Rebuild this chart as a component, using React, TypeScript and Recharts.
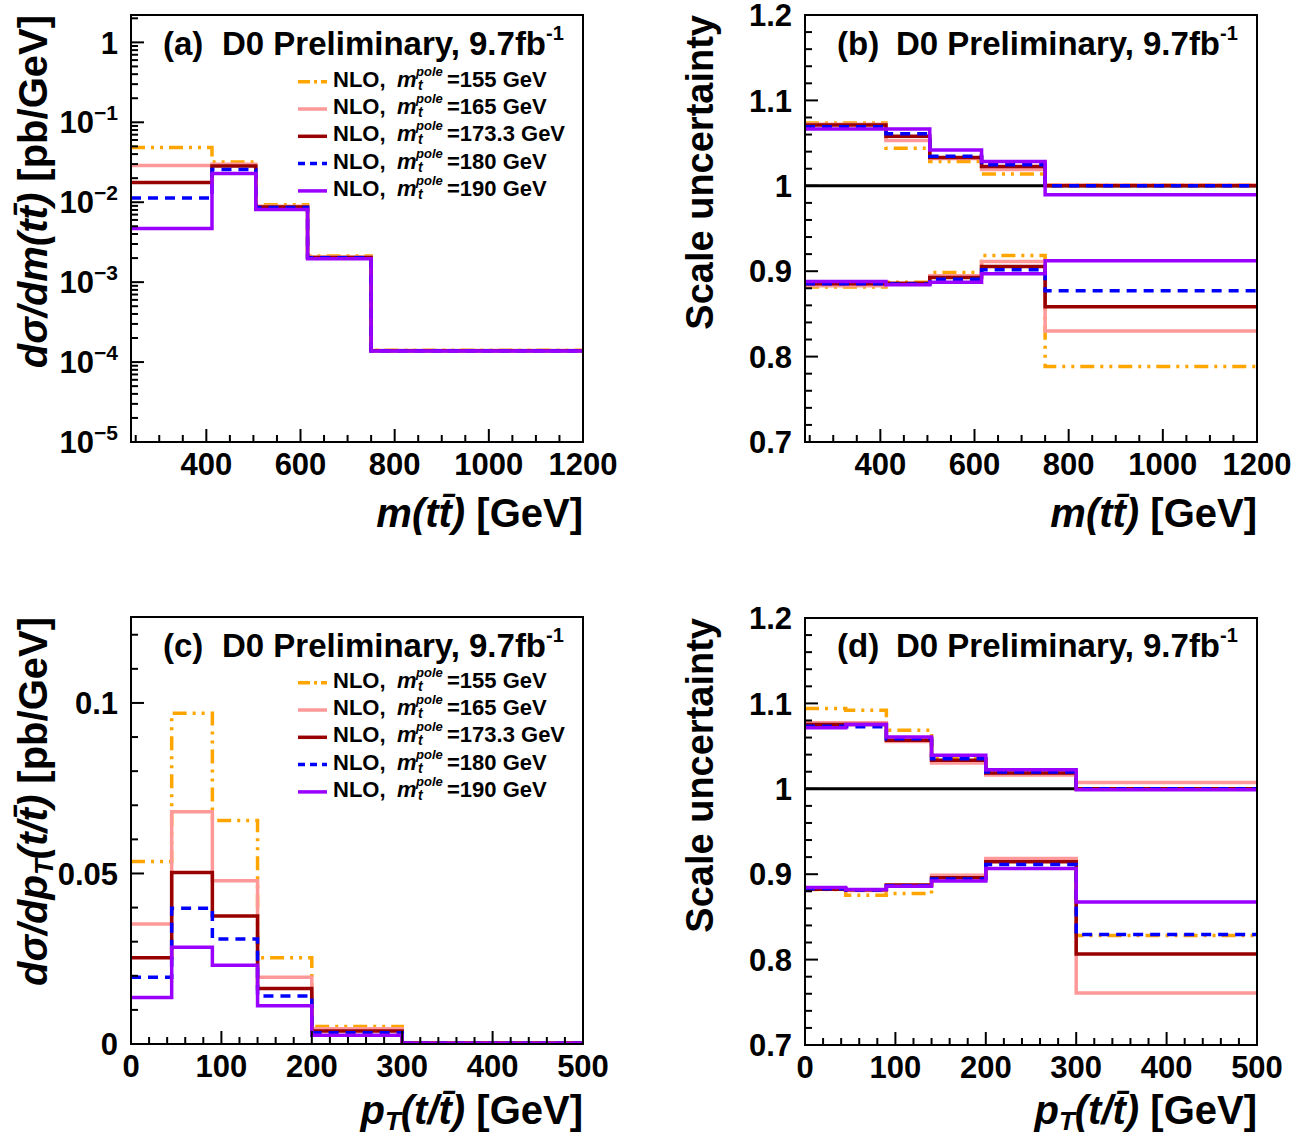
import React from 'react';
import { LineChart, Line, XAxis, YAxis, ReferenceLine } from 'recharts';

const FONT = '"Liberation Sans", Arial, Helvetica, sans-serif';

// bin edges
const MTT_EDGES = [240, 412, 505, 615, 750, 1200];
const PT_EDGES = [0, 45, 90, 140, 200, 300, 500];

const MASS_LABELS = ['155', '165', '173.3', '180', '190'];
const MASS_KEYS = ['m155', 'm165', 'm173', 'm180', 'm190'];
const COLORS = ['#ffa500', '#ff9999', '#990000', '#0000ff', '#9900ff'];
const DASHES: (string | undefined)[] = ['14 6 3 6 3 6', undefined, undefined, '10 7', undefined];

// (a) dsigma/dm(tt) [pb/GeV]
const mtt155 = [0.0483, 0.0319, 0.0093, 0.00212, 0.000141];
const mtt165 = [0.0288, 0.0298, 0.0089, 0.00206, 0.00014];
const mtt173 = [0.0176, 0.0284, 0.0087, 0.00204, 0.000139];
const mtt180 = [0.0113, 0.0257, 0.0086, 0.00202, 0.000139];
const mtt190 = [0.00468, 0.0229, 0.0081, 0.00196, 0.000138];

// (b) scale uncertainty vs m(tt), up / down
const mttUp155 = [1.0736, 1.044, 1.0286, 1.0138, 1.001];
const mttUp165 = [1.072, 1.053, 1.032, 1.019, 1.001];
const mttUp173 = [1.0713, 1.058, 1.033, 1.0227, 1.0];
const mttUp180 = [1.069, 1.061, 1.0345, 1.0247, 1.0];
const mttUp190 = [1.0666, 1.0666, 1.042, 1.0286, 0.9896];
const mttDn155 = [0.8814, 0.8872, 0.8985, 0.9184, 0.7883];
const mttDn165 = [0.8829, 0.8852, 0.8946, 0.9114, 0.83];
const mttDn173 = [0.8852, 0.886, 0.8926, 0.9055, 0.8583];
const mttDn180 = [0.8852, 0.885, 0.8907, 0.9016, 0.877];
const mttDn190 = [0.888, 0.884, 0.8872, 0.897, 0.9122];

// (c) dsigma/dpT [pb/GeV]
const pt155 = [0.0535, 0.097, 0.0655, 0.0253, 0.0051, 0.0004];
const pt165 = [0.0352, 0.0681, 0.0479, 0.0196, 0.0045, 0.0003];
const pt173 = [0.0253, 0.0503, 0.0375, 0.0163, 0.0038, 0.0003];
const pt180 = [0.0196, 0.0398, 0.0308, 0.0141, 0.0033, 0.0002];
const pt190 = [0.0136, 0.0284, 0.0231, 0.0112, 0.0026, 0.0002];

// (d) scale uncertainty vs pT, up / down
const ptUp155 = [1.094, 1.092, 1.0686, 1.0353, 1.018, 1.0];
const ptUp165 = [1.0773, 1.0773, 1.0553, 1.0302, 1.0161, 1.0074];
const ptUp173 = [1.0753, 1.0753, 1.0568, 1.0333, 1.0184, 1.0];
const ptUp180 = [1.0733, 1.0726, 1.0585, 1.0353, 1.0196, 1.0];
const ptUp190 = [1.0714, 1.0753, 1.0608, 1.0392, 1.0224, 0.999];
const ptDn155 = [0.882, 0.8753, 0.8773, 0.897, 0.916, 0.8282];
const ptDn165 = [0.883, 0.881, 0.887, 0.8988, 0.9184, 0.7608];
const ptDn173 = [0.8824, 0.8818, 0.8874, 0.8957, 0.9145, 0.8067];
const ptDn180 = [0.883, 0.8815, 0.8865, 0.8945, 0.9114, 0.8294];
const ptDn190 = [0.8843, 0.882, 0.8859, 0.8921, 0.9067, 0.8674];

// plot frame inside each chart (chart-relative, before the top pad)
const W = 680;
const PAD = 20;
const PL = 131;
const PR = 583;
const PT = 15;
const PB = 442;

const range = (a: number, b: number, step: number) => {
  const out: number[] = [];
  for (let i = 0; a + i * step <= b + 1e-9; i++) out.push(+(a + i * step).toFixed(6));
  return out;
};

const near = (a: number, b: number) => Math.abs(a - b) <= 1e-6 * Math.max(Math.abs(a), Math.abs(b), 1e-12);

const buildRows = (edges: number[], groups: { prefix: string; series: number[][] }[]) =>
  edges.map((x, i) => {
    const row: any = { x };
    groups.forEach(g =>
      g.series.forEach((s, k) => {
        row[g.prefix + MASS_KEYS[k]] = s[Math.min(i, s.length - 1)];
      })
    );
    return row;
  });

const rowsA = buildRows(MTT_EDGES, [{ prefix: '', series: [mtt155, mtt165, mtt173, mtt180, mtt190] }]);
const rowsB = buildRows(MTT_EDGES, [
  { prefix: 'u', series: [mttUp155, mttUp165, mttUp173, mttUp180, mttUp190] },
  { prefix: 'd', series: [mttDn155, mttDn165, mttDn173, mttDn180, mttDn190] },
]);
const rowsC = buildRows(PT_EDGES, [{ prefix: '', series: [pt155, pt165, pt173, pt180, pt190] }]);
const rowsD = buildRows(PT_EDGES, [
  { prefix: 'u', series: [ptUp155, ptUp165, ptUp173, ptUp180, ptUp190] },
  { prefix: 'd', series: [ptDn155, ptDn165, ptDn173, ptDn180, ptDn190] },
]);

// ticks
const MTT_TICKS = range(250, 1200, 50);
const MTT_MAJOR = [400, 600, 800, 1000, 1200];
const PT_TICKS = range(0, 500, 20);
const PT_MAJOR = [0, 100, 200, 300, 400, 500];
const LOG_TICKS: number[] = [];
for (let d = -5; d <= 0; d++) for (let k = 1; k <= 9; k++) if (k * Math.pow(10, d) <= 2.2) LOG_TICKS.push(k * Math.pow(10, d));
const LOG_MAJOR = [1e-5, 1e-4, 1e-3, 1e-2, 1e-1, 1];
const XS_TICKS = range(0, 0.12, 0.01);
const XS_MAJOR = [0, 0.05, 0.1];
const RATIO_TICKS = range(0.7, 1.2, 0.02);
const RATIO_MAJOR = [0.7, 0.8, 0.9, 1, 1.1, 1.2];

const tickText = { fontFamily: FONT, fontWeight: 700, fontSize: 31, fill: '#000' };

const makeXTick = (majors: number[]) => (props: any) => {
  const { x, payload } = props;
  const v = payload.value;
  const major = majors.some(m => near(m, v));
  const yb = PB + PAD;
  return (
    <g>
      <line x1={x} x2={x} y1={yb} y2={yb - (major ? 13 : 7)} stroke="#000" strokeWidth={2} />
      {major && (
        <text x={x} y={yb + 33} textAnchor="middle" style={tickText}>
          {String(v)}
        </text>
      )}
    </g>
  );
};

const makeYTick = (majors: number[], fmt: (v: number) => React.ReactNode) => (props: any) => {
  const { y, payload } = props;
  const v = payload.value;
  const major = majors.some(m => near(m, v));
  return (
    <g>
      <line x1={PL} x2={PL + (major ? 13 : 7)} y1={y} y2={y} stroke="#000" strokeWidth={2} />
      {major && (
        <text x={PL - 13} y={y} dy="0.36em" textAnchor="end" style={tickText}>
          {fmt(v)}
        </text>
      )}
    </g>
  );
};

const logFmt = (v: number) => {
  const e = Math.round(Math.log10(v));
  if (e === 0) return '1';
  return (
    <>
      10
      <tspan dy={-13} fontSize={21}>
        {'\u2212' + Math.abs(e)}
      </tspan>
    </>
  );
};
const numFmt = (v: number) => String(v);

type PanelProps = {
  left: number;
  top: number;
  height: number;
  rows: any[];
  prefixes: string[];
  xDomain: [number, number];
  xTicks: number[];
  xMajors: number[];
  yScale: 'log' | 'linear';
  yDomain: [number, number];
  yTicks: number[];
  yMajors: number[];
  yFmt: (v: number) => React.ReactNode;
  unity?: boolean;
};

const Panel = (p: PanelProps) => {
  const h = p.height + PAD;
  return (
    <div style={{ position: 'absolute', left: p.left, top: p.top - PAD, width: W, height: h }}>
      <LineChart width={W} height={h} data={p.rows} margin={{ top: PT + PAD, right: W - PR, left: 0, bottom: 0 }}>
        <XAxis
          dataKey="x"
          type="number"
          domain={p.xDomain}
          ticks={p.xTicks}
          interval={0}
          height={p.height - PB}
          tickLine={false}
          axisLine={false}
          allowDataOverflow
          tick={makeXTick(p.xMajors)}
        />
        <YAxis
          type="number"
          scale={p.yScale}
          domain={p.yDomain}
          ticks={p.yTicks}
          interval={0}
          width={PL}
          tickLine={false}
          axisLine={false}
          allowDataOverflow
          tick={makeYTick(p.yMajors, p.yFmt)}
        />
        {p.unity && <ReferenceLine y={1} stroke="#000" strokeWidth={3} />}
        {p.prefixes.flatMap(pre =>
          MASS_KEYS.map((k, i) => (
            <Line
              key={pre + k}
              dataKey={pre + k}
              type="stepAfter"
              stroke={COLORS[i]}
              strokeWidth={3.5}
              strokeDasharray={DASHES[i]}
              dot={false}
              activeDot={false}
              isAnimationActive={false}
            />
          ))
        )}
      </LineChart>
    </div>
  );
};

const Title = ({ x, y, tag }: { x: number; y: number; tag: string }) => (
  <g style={{ fontFamily: FONT, fontWeight: 700, fill: '#000' }}>
    <text x={x} y={y} fontSize={33}>
      {tag}
    </text>
    <text x={x + 59} y={y} fontSize={33}>
      D0 Preliminary, 9.7fb
      <tspan dy={-15} fontSize={20}>
        -1
      </tspan>
    </text>
  </g>
);

const LegendBox = ({ top }: { top: number }) => (
  <g style={{ fontFamily: FONT, fontWeight: 700, fill: '#000' }}>
    {MASS_LABELS.map((m, i) => {
      const b = top + i * 27.3;
      return (
        <g key={m}>
          <line x1={298} x2={327} y1={b - 5} y2={b - 5} stroke={COLORS[i]} strokeWidth={3.5} strokeDasharray={DASHES[i] ? (i === 0 ? '12 4 3 4' : '7 5') : undefined} />
          <text x={333} y={b} fontSize={22}>NLO,</text>
          <text x={397} y={b} fontSize={22} fontStyle="italic">m</text>
          <text x={416} y={b - 11} fontSize={13} fontStyle="italic">pole</text>
          <text x={418} y={b + 3} fontSize={14} fontStyle="italic">t</text>
          <text x={447} y={b} fontSize={22}>{'=' + m + ' GeV'}</text>
        </g>
      );
    })}
  </g>
);

const axisTitle = { fontFamily: FONT, fontWeight: 700, fontSize: 40, fill: '#000' };
const scaleTitle = { fontFamily: FONT, fontWeight: 700, fontSize: 38, fill: '#000' };

const MttTitle = ({ x, y }: { x: number; y: number }) => (
  <text x={x} y={y} textAnchor="end" style={axisTitle}>
    <tspan fontStyle="italic">{'m(tt\u0304)'}</tspan> [GeV]
  </text>
);

const PtTitle = ({ x, y }: { x: number; y: number }) => (
  <text x={x} y={y} textAnchor="end" style={axisTitle}>
    <tspan fontStyle="italic">p</tspan>
    <tspan fontStyle="italic" fontSize={26} dy={6}>T</tspan>
    <tspan fontStyle="italic" dy={-6}>{'(t/t\u0304)'}</tspan> [GeV]
  </text>
);

const Overlay = () => (
  <svg width={1304} height={1137} style={{ position: 'absolute', left: 0, top: 0, pointerEvents: 'none' }}>
    {[
      [0, 0],
      [674, 0],
      [0, 602],
      [674, 603],
    ].map(([dx, dy], i) => (
      <rect key={i} x={PL + dx} y={PT + dy} width={PR - PL} height={PB - PT} fill="none" stroke="#000" strokeWidth={2} />
    ))}
    <Title x={163} y={55} tag="(a)" />
    <Title x={837} y={55} tag="(b)" />
    <Title x={163} y={657} tag="(c)" />
    <Title x={837} y={657} tag="(d)" />
    <LegendBox top={86.7} />
    <LegendBox top={687.7} />
    <MttTitle x={583} y={527} />
    <MttTitle x={1257} y={527} />
    <PtTitle x={583} y={1124} />
    <PtTitle x={1257} y={1124} />
    <text transform="translate(47,15) rotate(-90)" textAnchor="end" style={axisTitle}>
      <tspan fontStyle="italic">{'d\u03c3/dm(tt\u0304)'}</tspan> [pb/GeV]
    </text>
    <text transform="translate(713,15) rotate(-90)" textAnchor="end" style={scaleTitle}>
      Scale uncertainty
    </text>
    <text transform="translate(47,617) rotate(-90)" textAnchor="end" style={axisTitle}>
      <tspan fontStyle="italic">{'d\u03c3/dp'}</tspan>
      <tspan fontStyle="italic" fontSize={26} dy={6}>T</tspan>
      <tspan fontStyle="italic" dy={-6}>{'(t/t\u0304)'}</tspan> [pb/GeV]
    </text>
    <text transform="translate(713,618) rotate(-90)" textAnchor="end" style={scaleTitle}>
      Scale uncertainty
    </text>
  </svg>
);

export default function App() {
  return (
    <div style={{ position: 'absolute', left: 0, top: 0, width: 1304, height: 1137, overflow: 'hidden', background: '#fff' }}>
      <Panel
        left={0}
        top={0}
        height={560}
        rows={rowsA}
        prefixes={['']}
        xDomain={[240, 1200]}
        xTicks={MTT_TICKS}
        xMajors={MTT_MAJOR}
        yScale="log"
        yDomain={[1e-5, 2.2]}
        yTicks={LOG_TICKS}
        yMajors={LOG_MAJOR}
        yFmt={logFmt}
      />
      <Panel
        left={674}
        top={0}
        height={560}
        rows={rowsB}
        prefixes={['u', 'd']}
        xDomain={[240, 1200]}
        xTicks={MTT_TICKS}
        xMajors={MTT_MAJOR}
        yScale="linear"
        yDomain={[0.7, 1.2]}
        yTicks={RATIO_TICKS}
        yMajors={RATIO_MAJOR}
        yFmt={numFmt}
        unity
      />
      <Panel
        left={0}
        top={602}
        height={535}
        rows={rowsC}
        prefixes={['']}
        xDomain={[0, 500]}
        xTicks={PT_TICKS}
        xMajors={PT_MAJOR}
        yScale="linear"
        yDomain={[0, 0.1252]}
        yTicks={XS_TICKS}
        yMajors={XS_MAJOR}
        yFmt={numFmt}
      />
      <Panel
        left={674}
        top={603}
        height={534}
        rows={rowsD}
        prefixes={['u', 'd']}
        xDomain={[0, 500]}
        xTicks={PT_TICKS}
        xMajors={PT_MAJOR}
        yScale="linear"
        yDomain={[0.7, 1.2]}
        yTicks={RATIO_TICKS}
        yMajors={RATIO_MAJOR}
        yFmt={numFmt}
        unity
      />
      <Overlay />
    </div>
  );
}
